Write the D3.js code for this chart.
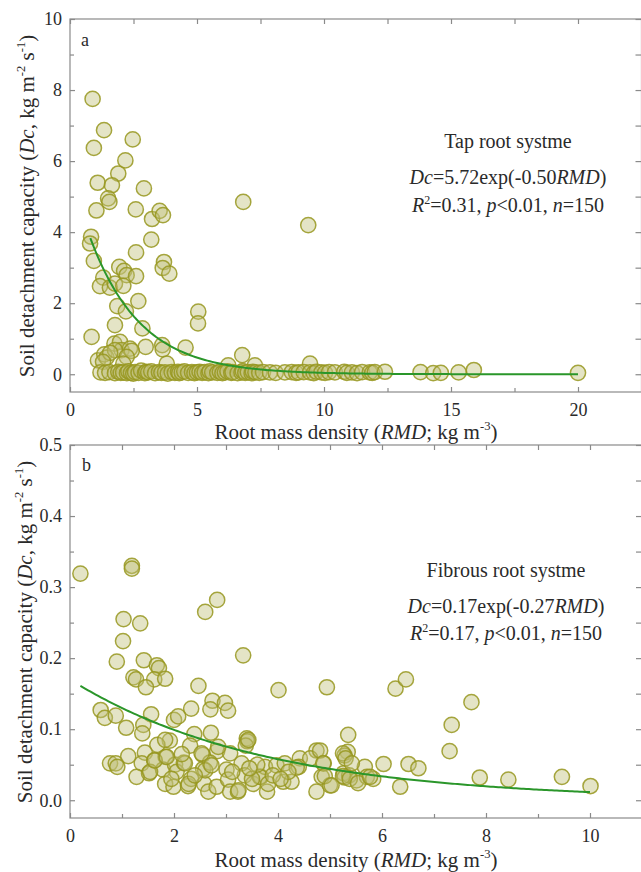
<!DOCTYPE html>
<html>
<head>
<meta charset="utf-8">
<script src="https://cdn.jsdelivr.net/npm/d3@7"></script>
<style>
  body { margin: 0; background: #fff; }
  svg { display: block; }
</style>
</head>
<body>
<div id="chart"></div>
<script>
// 主根系 (a) 数据: [RMD, Dc]
const tapPoints = [
  [0.89,7.75],[0.94,6.37],[1.34,6.87],[2.47,6.61],[1.09,5.39],[1.04,4.61],[1.90,5.65],[2.18,6.02],[1.65,5.32],[1.50,4.95],
  [1.55,4.85],[2.91,5.23],[2.59,4.64],[3.23,4.37],[3.53,4.60],[3.66,4.48],[6.82,4.85],[9.38,4.20],[0.83,3.87],[0.79,3.68],
  [0.94,3.19],[3.20,3.79],[2.60,3.43],[3.70,3.16],[3.65,2.99],[3.91,2.83],[1.94,3.02],[2.13,2.91],[2.23,2.79],[2.60,2.76],
  [1.31,2.72],[1.18,2.48],[1.57,2.44],[1.77,2.55],[2.10,2.49],[2.69,2.06],[1.86,1.92],[2.20,1.77],[1.77,1.38],[2.85,1.29],
  [5.05,1.76],[5.04,1.43],[0.85,1.05],[2.98,0.77],[4.55,0.75],[3.63,0.82],[3.65,0.70],[1.10,0.39],[1.35,0.56],[1.44,0.47],
  [1.75,0.86],[1.97,0.91],[2.03,0.68],[1.77,0.68],[2.36,0.72],[2.43,0.66],[2.23,0.49],[1.58,0.60],[6.78,0.54],[3.81,0.30],
  [6.23,0.25],[7.28,0.25],[9.45,0.30],[15.9,0.12],[1.30,0.35],[2.10,0.30],
  [1.2,0.05],[1.38,0.04],[1.55,0.06],[1.77,0.03],[1.9,0.07],[2.0,0.04],[2.09,0.05],[2.24,0.03],[2.3,0.08],[2.4,0.04],
  [2.49,0.02],[2.56,0.06],[2.7,0.04],[2.8,0.10],[2.95,0.03],[3.0,0.07],[3.08,0.05],[3.2,0.08],[3.35,0.03],[3.5,0.06],
  [3.6,0.04],[3.74,0.05],[3.85,0.02],[4.0,0.06],[4.13,0.04],[4.25,0.07],[4.3,0.03],[4.4,0.05],[4.5,0.08],[4.65,0.04],
  [4.8,0.06],[4.9,0.03],[5.0,0.05],[5.1,0.07],[5.2,0.04],[5.3,0.06],[5.45,0.03],[5.5,0.08],[5.6,0.05],[5.8,0.04],
  [5.9,0.07],[6.0,0.03],[6.1,0.05],[6.2,0.08],[6.35,0.04],[6.4,0.06],[6.6,0.03],[6.75,0.05],[6.8,0.09],[6.9,0.04],
  [7.0,0.06],[7.15,0.03],[7.2,0.07],[7.3,0.05],[7.45,0.04],[7.6,0.06],[7.87,0.05],[8.1,0.04],[8.46,0.05],[8.73,0.06],
  [8.9,0.04],[9.0,0.05],[9.2,0.06],[9.45,0.05],[9.6,0.03],[9.7,0.07],[9.9,0.05],[10.04,0.04],[10.2,0.06],[10.43,0.05],
  [10.8,0.07],[10.9,0.04],[11.1,0.05],[11.3,0.03],[11.5,0.06],[11.8,0.05],[11.9,0.04],[12.0,0.06],[12.4,0.07],[13.8,0.06],
  [14.3,0.03],[14.6,0.04],[15.3,0.05],[20.0,0.04]
];

// 须根系 (b) 数据: [RMD, Dc]
const fibPoints = [
  [0.20,0.319],[1.19,0.330],[1.19,0.326],[1.03,0.255],[1.35,0.249],[1.02,0.224],[2.60,0.265],[2.83,0.282],[3.33,0.204],[0.90,0.195],
  [1.42,0.197],[1.67,0.190],[1.71,0.186],[1.22,0.173],[1.27,0.170],[1.62,0.170],[1.83,0.171],[1.46,0.159],[2.47,0.161],[4.01,0.155],
  [4.94,0.159],[6.26,0.157],[6.46,0.170],[7.72,0.138],[7.34,0.106],[7.30,0.069],
  [0.59,0.127],[0.67,0.116],[0.88,0.119],[1.08,0.102],[1.56,0.121],[1.41,0.106],[1.39,0.094],[2.00,0.113],[2.08,0.118],[2.33,0.129],
  [2.74,0.140],[2.70,0.128],[2.98,0.137],[3.04,0.126],[2.71,0.095],[2.39,0.093],[1.92,0.084],[2.31,0.077],[1.68,0.078],[1.44,0.067],
  [3.40,0.087],[3.41,0.083],[3.38,0.077],[2.83,0.069],[2.55,0.064],
  [0.77,0.052],[0.88,0.052],[0.91,0.047],[1.12,0.062],[1.38,0.052],[1.28,0.033],[1.52,0.038],[1.62,0.056],[1.84,0.061],[1.79,0.043],
  [1.83,0.023],[1.99,0.019],[2.02,0.050],[2.05,0.040],[2.19,0.053],[2.27,0.020],[2.33,0.030],[2.58,0.023],[2.66,0.012],[2.56,0.044],
  [2.69,0.053],[2.82,0.019],[3.01,0.043],[3.04,0.029],[3.08,0.012],[3.23,0.012],[3.30,0.052],[3.36,0.035],[3.52,0.023],[3.67,0.033],
  [3.75,0.047],[3.79,0.012],[3.97,0.049],[4.10,0.026],[4.26,0.026],[4.13,0.052],[4.42,0.059],[4.40,0.047],[4.74,0.070],[4.74,0.012],
  [5.35,0.092],[5.34,0.068],[5.28,0.063],[4.62,0.059],[4.88,0.052],[4.36,0.046],[3.65,0.033],[3.81,0.023],[4.84,0.033],[5.00,0.021],
  [5.26,0.038],[5.28,0.032],[5.37,0.035],[5.51,0.028],[5.67,0.047],[5.71,0.033],[5.83,0.030],[6.03,0.051],[6.35,0.019],[6.51,0.051],
  [6.70,0.045],[3.08,0.066],[3.43,0.085],
  [7.88,0.032],[8.43,0.029],[9.46,0.033],[10.01,0.020],
  [4.81,0.070],[4.87,0.052],[4.90,0.034],[5.03,0.021],[5.25,0.066],[5.30,0.059],[5.42,0.052],[5.25,0.034],[5.38,0.030],[5.54,0.024],
  [5.77,0.033],
  [1.54,0.040],[1.63,0.056],[1.86,0.061],[2.21,0.052],[2.28,0.023],[1.83,0.085],[2.53,0.066],[2.60,0.042],[2.72,0.049],[2.85,0.075],
  [3.24,0.014],[3.12,0.040],[3.50,0.030],[3.90,0.035],[4.20,0.040],[2.40,0.035],[1.95,0.030],[3.60,0.050],[4.05,0.030],[2.15,0.065],
  [3.45,0.045]
];

// 拟合参数 Dc = a * exp(b * RMD)
const tapFit = [5.72, -0.50];
const tapFitRange = [0.8, 20];
const fibFit = [0.17, -0.27];
const fibFitRange = [0.2, 10];

// 刻度
const tapXTicks = [0, 5, 10, 15, 20];
const tapXMinor = [2.5, 7.5, 12.5, 17.5];
const tapYTicks = [0, 2, 4, 6, 8, 10];
const tapYMinor = [1, 3, 5, 7, 9];
const fibXTicks = [0, 2, 4, 6, 8, 10];
const fibXMinor = [1, 3, 5, 7, 9];
const fibYTicks = [0.0, 0.1, 0.2, 0.3, 0.4, 0.5];
const fibYMinor = [0.05, 0.15, 0.25, 0.35, 0.45];

// 文字
const tapLabel = [[{t: 'Tap root systme'}],
  [{t: 'Dc', i: 1}, {t: '=5.72exp(-0.50'}, {t: 'RMD', i: 1}, {t: ')'}],
  [{t: 'R', i: 1}, {t: '2', sup: 1}, {t: '=0.31, '}, {t: 'p', i: 1}, {t: '<0.01, '}, {t: 'n', i: 1}, {t: '=150'}]];
const fibLabel = [[{t: 'Fibrous root systme'}],
  [{t: 'Dc', i: 1}, {t: '=0.17exp(-0.27'}, {t: 'RMD', i: 1}, {t: ')'}],
  [{t: 'R', i: 1}, {t: '2', sup: 1}, {t: '=0.17, '}, {t: 'p', i: 1}, {t: '<0.01, '}, {t: 'n', i: 1}, {t: '=150'}]];
const yTitle = [{t: 'Soil detachment capacity ('}, {t: 'Dc', i: 1}, {t: ', kg m'}, {t: '-2', sup: 1}, {t: ' s'}, {t: '-1', sup: 1}, {t: ')'}];
const xTitle = [{t: 'Root mass density ('}, {t: 'RMD', i: 1}, {t: '; kg m'}, {t: '-3', sup: 1}, {t: ')'}];

const width = 641, height = 872;
const FONT = '"Liberation Serif", "Times New Roman", serif';
const TEXT = '#2a2a2a';
const AXIS = '#8a8a8a';

const svg = d3.select('#chart').append('svg')
  .attr('width', width)
  .attr('height', height)
  .style('font-family', FONT);

function richText(sel, x, y, parts, size, anchor, transform) {
  const txt = sel.append('text')
    .attr('x', x).attr('y', y)
    .attr('font-size', size)
    .attr('fill', TEXT)
    .attr('text-anchor', anchor || 'start');
  if (transform) txt.attr('transform', transform);
  const shift = size * 0.42;
  let up = false;
  parts.forEach(p => {
    const ts = txt.append('tspan').text(p.t);
    if (p.i) ts.attr('font-style', 'italic');
    if (p.sup) {
      ts.attr('font-size', size * 0.6).attr('dy', -shift);
      up = true;
    } else if (up) {
      ts.attr('dy', shift);
      up = false;
    }
  });
  return txt;
}

function drawPanel(cfg) {
  const x = d3.scaleLinear().domain(cfg.xDomain).range([cfg.left, cfg.right]);
  const y = d3.scaleLinear().domain(cfg.yDomain).range([cfg.bottom, cfg.top]);
  const g = svg.append('g');

  // 框
  g.append('rect')
    .attr('x', cfg.left).attr('y', cfg.top)
    .attr('width', cfg.right - cfg.left).attr('height', cfg.bottom - cfg.top)
    .attr('fill', 'none').attr('stroke', AXIS).attr('stroke-width', 1.2);

  const styleAxis = a => {
    a.select('.domain').remove();
    a.selectAll('line').attr('stroke', AXIS).attr('stroke-width', 1.2);
    a.selectAll('text').attr('fill', TEXT).attr('font-size', 18).attr('font-family', FONT);
  };

  const allX = cfg.xTicks.concat(cfg.xMinor);
  const allY = cfg.yTicks.concat(cfg.yMinor);

  g.append('g').attr('transform', `translate(0,${cfg.bottom})`)
    .call(d3.axisBottom(x).tickValues(cfg.xTicks).tickSize(-5).tickPadding(11).tickFormat(d3.format('d')))
    .call(styleAxis);
  g.append('g').attr('transform', `translate(0,${cfg.bottom})`)
    .call(d3.axisBottom(x).tickValues(cfg.xMinor).tickSize(-4).tickFormat(''))
    .call(styleAxis);
  g.append('g').attr('transform', `translate(0,${cfg.top})`)
    .call(d3.axisTop(x).tickValues(allX).tickSize(-5).tickFormat(''))
    .call(styleAxis);
  g.append('g').attr('transform', `translate(${cfg.left},0)`)
    .call(d3.axisLeft(y).tickValues(cfg.yTicks).tickSize(-5).tickPadding(8).tickFormat(cfg.yFormat))
    .call(styleAxis);
  g.append('g').attr('transform', `translate(${cfg.left},0)`)
    .call(d3.axisLeft(y).tickValues(cfg.yMinor).tickSize(-4).tickFormat(''))
    .call(styleAxis);
  g.append('g').attr('transform', `translate(${cfg.right},0)`)
    .call(d3.axisRight(y).tickValues(allY).tickSize(-6).tickFormat(''))
    .call(styleAxis);

  // 散点
  g.append('g').selectAll('circle')
    .data(cfg.points)
    .join('circle')
    .attr('cx', d => x(d[0]))
    .attr('cy', d => y(d[1]))
    .attr('r', 7.6)
    .attr('fill', 'rgba(190,190,120,0.42)')
    .attr('stroke', 'rgba(150,150,30,0.85)')
    .attr('stroke-width', 1.5);

  // 拟合曲线
  const xs = d3.range(cfg.fitRange[0], cfg.fitRange[1] + 1e-9, (cfg.fitRange[1] - cfg.fitRange[0]) / 200);
  g.append('path')
    .datum(xs)
    .attr('fill', 'none')
    .attr('stroke', '#2a962a')
    .attr('stroke-width', 2)
    .attr('d', d3.line().x(d => x(d)).y(d => y(cfg.fit[0] * Math.exp(cfg.fit[1] * d))));

  // 面板标签
  g.append('text')
    .attr('x', cfg.tagPos[0]).attr('y', cfg.tagPos[1])
    .attr('font-size', 18).attr('fill', TEXT)
    .text(cfg.tag);

  // 注释
  cfg.label.forEach((line, k) => {
    richText(g, cfg.labelX, cfg.labelY[k], line, 20, 'middle');
  });

  // 轴标题
  richText(g, cfg.xTitlePos[0], cfg.xTitlePos[1], xTitle, 21, 'middle');
  richText(g, 0, 0, yTitle, 21, 'middle', `translate(${cfg.yTitlePos[0]},${cfg.yTitlePos[1]}) rotate(-90)`);
}

drawPanel({
  left: 70, right: 641.5, top: 19, bottom: 392,
  xDomain: [0, 22.5], yDomain: [-0.5, 10],
  xTicks: tapXTicks, xMinor: tapXMinor, yTicks: tapYTicks, yMinor: tapYMinor,
  yFormat: d3.format('d'),
  points: tapPoints, fit: tapFit, fitRange: tapFitRange,
  tag: 'a', tagPos: [81, 46],
  label: tapLabel, labelX: 508, labelY: [148, 184, 212],
  xTitlePos: [356, 439], yTitlePos: [34, 206]
});

drawPanel({
  left: 70, right: 642, top: 445, bottom: 818,
  xDomain: [0, 11], yDomain: [-0.025, 0.5],
  xTicks: fibXTicks, xMinor: fibXMinor, yTicks: fibYTicks, yMinor: fibYMinor,
  yFormat: d3.format('.1f'),
  points: fibPoints, fit: fibFit, fitRange: fibFitRange,
  tag: 'b', tagPos: [82, 471],
  label: fibLabel, labelX: 506, labelY: [577, 613, 640],
  xTitlePos: [356, 867], yTitlePos: [32, 632]
});
</script>
</body>
</html>
